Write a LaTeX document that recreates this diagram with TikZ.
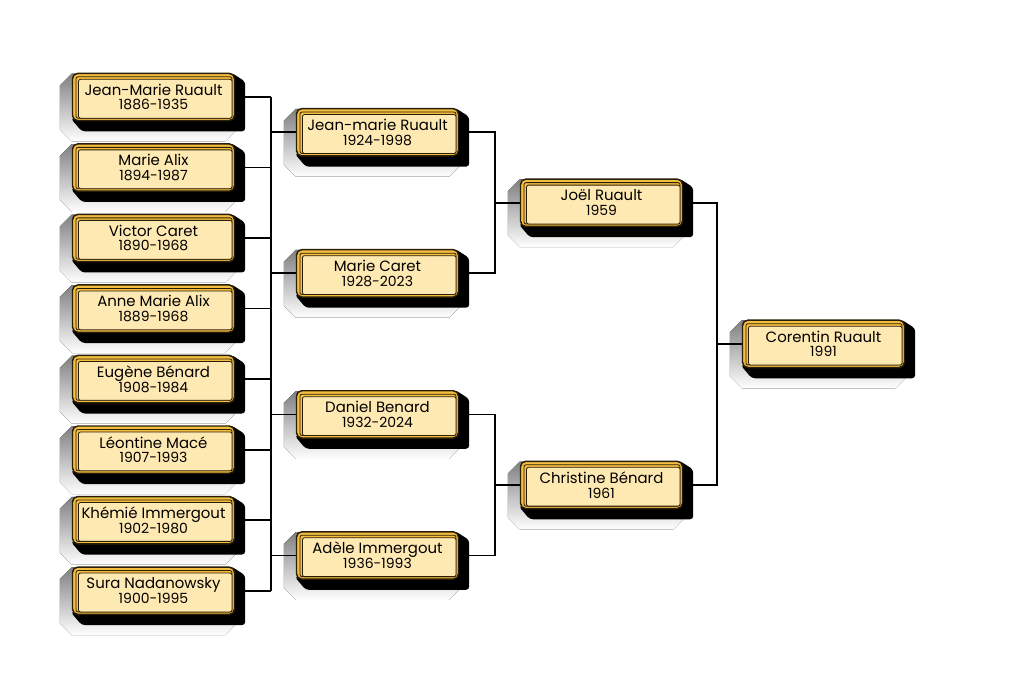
\documentclass[tikz,border=0pt]{standalone}
\usepackage{fontspec}
\setmainfont{Poppins}
\usetikzlibrary{positioning, calc}

\definecolor{gold}{RGB}{244,190,62}
\definecolor{cream}{RGB}{255,233,178}
\definecolor{edge}{RGB}{40,30,10}
\definecolor{shade}{RGB}{230,230,230}

\pgfdeclarelayer{greylayer}
\pgfdeclarelayer{linelayer}
\pgfdeclarelayer{blacklayer}
\pgfsetlayers{greylayer,linelayer,blacklayer,main}

% grey and black shadows behind a person box
\newcommand\boxshadows[1]{%
  \begin{pgfonlayer}{greylayer}
    \fill[shade] ($(#1.north west)+(-12,13)$) -- ($(#1.north west)+(0,1)$)
      -- ($(#1.north east)+(-10,1)$) -- ($(#1.north east)+(2,13)$)
      -- ($(#1.south east)+(2,8)$) -- ($(#1.south east)+(-10,20)$)
      -- ($(#1.south west)+(0,20)$) -- ($(#1.south west)+(-12,8)$) -- cycle;
  \end{pgfonlayer}
  \begin{pgfonlayer}{blacklayer}
    \fill[black, rounded corners=2.5pt] ($(#1.north east)+(-4,0)$)
      -- ($(#1.north east)+(10,9)$) -- ($(#1.south east)+(10,10)$)
      -- ($(#1.south west)+(10,10)$) -- ($(#1.south west)+(-1,-3)$) -- cycle;
  \end{pgfonlayer}}

\newcommand\yr[1]{{\fontsize{10.5}{10}\selectfont #1}}

\begin{document}
\begin{tikzpicture}[
    x=0.75pt, y=-0.75pt,
    person/.style={draw=edge, line width=1.1pt, fill=gold, rounded corners=4pt,
                   minimum width=121.5pt, minimum height=35.5pt, inner sep=0pt,
                   align=center, font=\fontsize{11.2}{11}\selectfont,
                   path picture={
                     \draw[edge, line width=0.6pt, rounded corners=1.5pt]
                       ([shift={(3.5,3.5)}]path picture bounding box.north west)
                       rectangle ([shift={(-2.5,-2.5)}]path picture bounding box.south east);
                     \draw[edge, fill=cream, line width=0.6pt, rounded corners=1.5pt]
                       ([shift={(6,6)}]path picture bounding box.north west)
                       rectangle ([shift={(-2.5,-2.5)}]path picture bounding box.south east);
                   }},
    link/.style={draw=black, line width=1.3pt},
    node distance=16.3pt
  ]
  \useasboundingbox (0,0) rectangle (1024,684);

  % great-grandparents
  \node[person] (jmr1) at (153.5,97) {Jean-Marie Ruault\\\yr{1886-1935}};
  \node[person, below=of jmr1] (ma1) {Marie Alix\\\yr{1894-1987}};
  \node[person, below=of ma1] (vc1) {Victor Caret\\\yr{1890-1968}};
  \node[person, below=of vc1] (ama1) {Anne Marie Alix\\\yr{1889-1968}};
  \node[person, below=of ama1] (eb1) {Eugène Bénard\\\yr{1908-1984}};
  \node[person, below=of eb1] (lm1) {Léontine Macé\\\yr{1907-1993}};
  \node[person, below=of lm1] (ki1) {Khémié Immergout\\\yr{1902-1980}};
  \node[person, below=of ki1] (sn1) {Sura Nadanowsky\\\yr{1900-1995}};

  % grandparents
  \node[person] (jmr2) at ($(jmr1)!0.5!(ma1)+(224,0)$) {Jean-marie Ruault\\\yr{1924-1998}};
  \node[person] (mc2) at ($(vc1)!0.5!(ama1)+(224,0)$) {Marie Caret\\\yr{1928-2023}};
  \node[person] (db2) at ($(eb1)!0.5!(lm1)+(224,0)$) {Daniel Benard\\\yr{1932-2024}};
  \node[person] (ai2) at ($(ki1)!0.5!(sn1)+(224,0)$) {Adèle Immergout\\\yr{1936-1993}};

  % parents
  \node[person] (jr3) at ($(jmr2)!0.5!(mc2)+(224,0)$) {Joël Ruault\\\yr{1959}};
  \node[person] (cb3) at ($(db2)!0.5!(ai2)+(224,0)$) {Christine Bénard\\\yr{1961}};

  % child
  \node[person] (cr4) at ($(jr3)!0.5!(cb3)+(222,0)$) {Corentin Ruault\\\yr{1991}};

  \foreach \n in {jmr1,ma1,vc1,ama1,eb1,lm1,ki1,sn1,jmr2,mc2,db2,ai2,jr3,cb3,cr4}
    \boxshadows{\n};

  \begin{pgfonlayer}{linelayer}
    % first bus
    \draw[link] (jmr1.east) -- ++(36,0) coordinate (busA);
    \draw[link] (busA) -- (busA |- sn1.east);
    \foreach \n in {ma1,vc1,ama1,eb1,lm1,ki1,sn1}
      \draw[link] (\n.east) -- (\n.east -| busA);
    \foreach \n in {jmr2,mc2,db2,ai2}
      \draw[link] (busA |- \n.west) -- (\n.west);
    % second column
    \draw[link] (jmr2.east) -- ++(36,0) coordinate (busB) |- (mc2.east);
    \draw[link] (busB |- jr3.west) -- (jr3.west);
    \draw[link] (db2.east) -- ++(36,0) coordinate (busC) |- (ai2.east);
    \draw[link] (busC |- cb3.west) -- (cb3.west);
    % third column
    \draw[link] (jr3.east) -- ++(34,0) coordinate (busD) |- (cb3.east);
    \draw[link] (busD |- cr4.west) -- (cr4.west);
  \end{pgfonlayer}
\end{tikzpicture}
\end{document}
